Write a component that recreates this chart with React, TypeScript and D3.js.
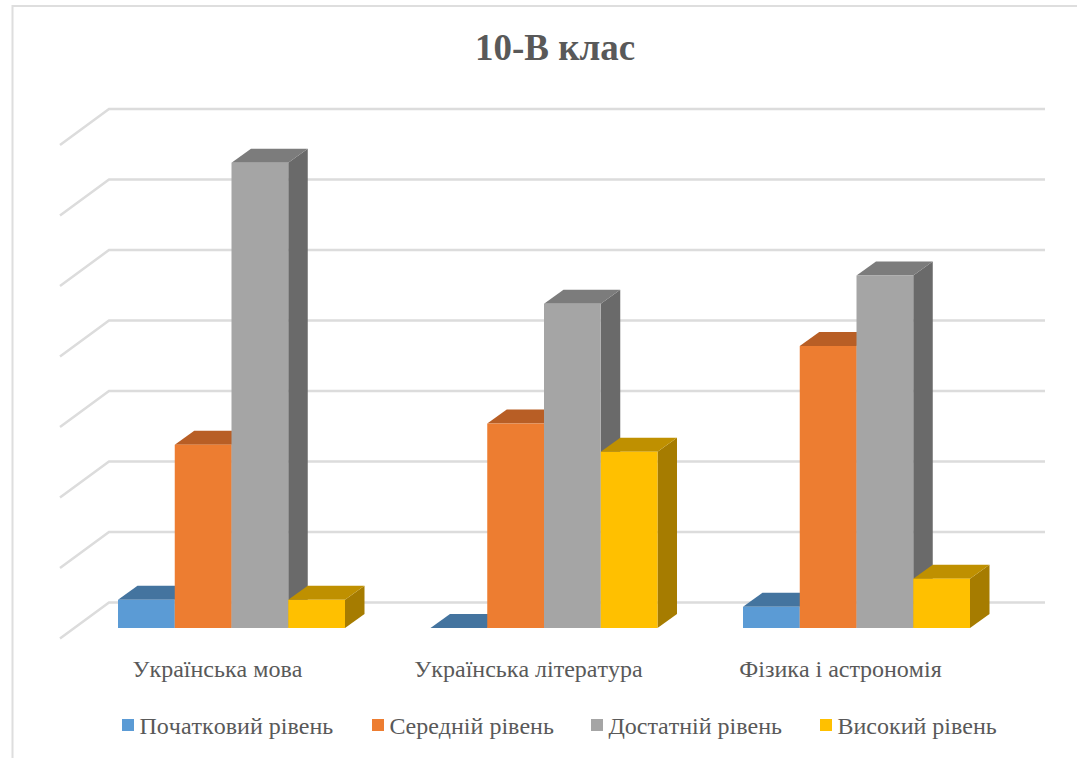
import React from "react";
import * as d3 from "d3";

const title = "10-В клас";
const categories = ["Українська мова", "Українська література", "Фізика і астрономія"];
const seriesNames = ["Початковий рівень", "Середній рівень", "Достатній рівень", "Високий рівень"];
const initial = [2, 0, 1.5];
const medium = [13, 14.5, 20];
const sufficient = [33, 23, 25];
const high = [2, 12.5, 3.5];
const seriesValues = [initial, medium, sufficient, high];
const ticks = [0, 5, 10, 15, 20, 25, 30, 35];
const frontColors = ["#5b9bd5", "#ed7d31", "#a5a5a5", "#ffc000"];
const topColors = ["#44749f", "#b85e25", "#7c7c7c", "#bf9000"];
const sideColors = ["#44749f", "#b85e25", "#6a6a6a", "#a67c00"];
const legendX = [122, 372, 591, 820];
const labelOffsets = [99.5, 98, 97.5];

const FONT = "'Liberation Serif', 'Times New Roman', serif";
const TEXT = "#595959";
const noKern = { fontKerning: "none" as const };

export default function App() {
  const yBar = d3.scaleLinear().domain([0, 35]).range([628, 134.5]);
  const yGrid = d3.scaleLinear().domain([0, 35]).range([602.5, 109]);
  const xCat = d3.scaleBand<number>().domain([0, 1, 2]).range([40.5, 978]).paddingInner(0).paddingOuter(0);
  const xBar = d3.scaleBand<number>().domain([0, 1, 2, 3]).range([0, 227]);
  const catX = (i: number) => (xCat(i) as number) + 77.5;
  const depthX = 19.5;
  const depthY = 14;
  const gridLeft = 109;
  const gridRight = 1045;
  const gridDx = 49;
  const gridDy = 36;

  return (
    <svg width={1077} height={758} style={{ position: "absolute", left: 0, top: 0, background: "#fff" }}>
      <path d="M12.5 758V6H1077" fill="none" stroke="#dedede" strokeWidth={2} />
      <text x={555} y={60} textAnchor="middle" fontFamily={FONT} fontWeight={700} fontSize={37} fill={TEXT}>{title}</text>
      {ticks.map((t) => (
        <path
          key={t}
          d={`M${gridLeft - gridDx} ${yGrid(t) + gridDy}L${gridLeft} ${yGrid(t)}H${gridRight}`}
          fill="none"
          stroke="#dcdcdc"
          strokeWidth={2.5}
        />
      ))}
      {categories.map((c, ci) => (
        <g key={c}>
          {seriesValues.map((vals, si) => {
            const x0 = catX(ci) + (xBar(si) as number);
            const w = xBar.bandwidth();
            const top = yBar(vals[ci]);
            const base = yBar(0);
            return (
              <g key={si}>
                <path
                  d={`M${x0 + w} ${top}L${x0 + w + depthX} ${top - depthY}V${base - depthY}L${x0 + w} ${base}Z`}
                  fill={sideColors[si]}
                />
                <path
                  d={`M${x0} ${top}L${x0 + depthX} ${top - depthY}H${x0 + w + depthX}L${x0 + w} ${top}Z`}
                  fill={topColors[si]}
                />
                <rect x={x0} y={top} width={w} height={base - top} fill={frontColors[si]} />
              </g>
            );
          })}
          <text
            x={catX(ci) + labelOffsets[ci]}
            y={677}
            textAnchor="middle"
            fontFamily={FONT}
            fontSize={24}
            fill={TEXT}
            style={noKern}
          >
            {c}
          </text>
        </g>
      ))}
      {seriesNames.map((s, i) => (
        <g key={s}>
          <rect x={legendX[i]} y={719} width={12} height={12} fill={frontColors[i]} />
          <text x={legendX[i] + 17.5} y={734} fontFamily={FONT} fontSize={24} fill={TEXT} style={noKern}>{s}</text>
        </g>
      ))}
    </svg>
  );
}
